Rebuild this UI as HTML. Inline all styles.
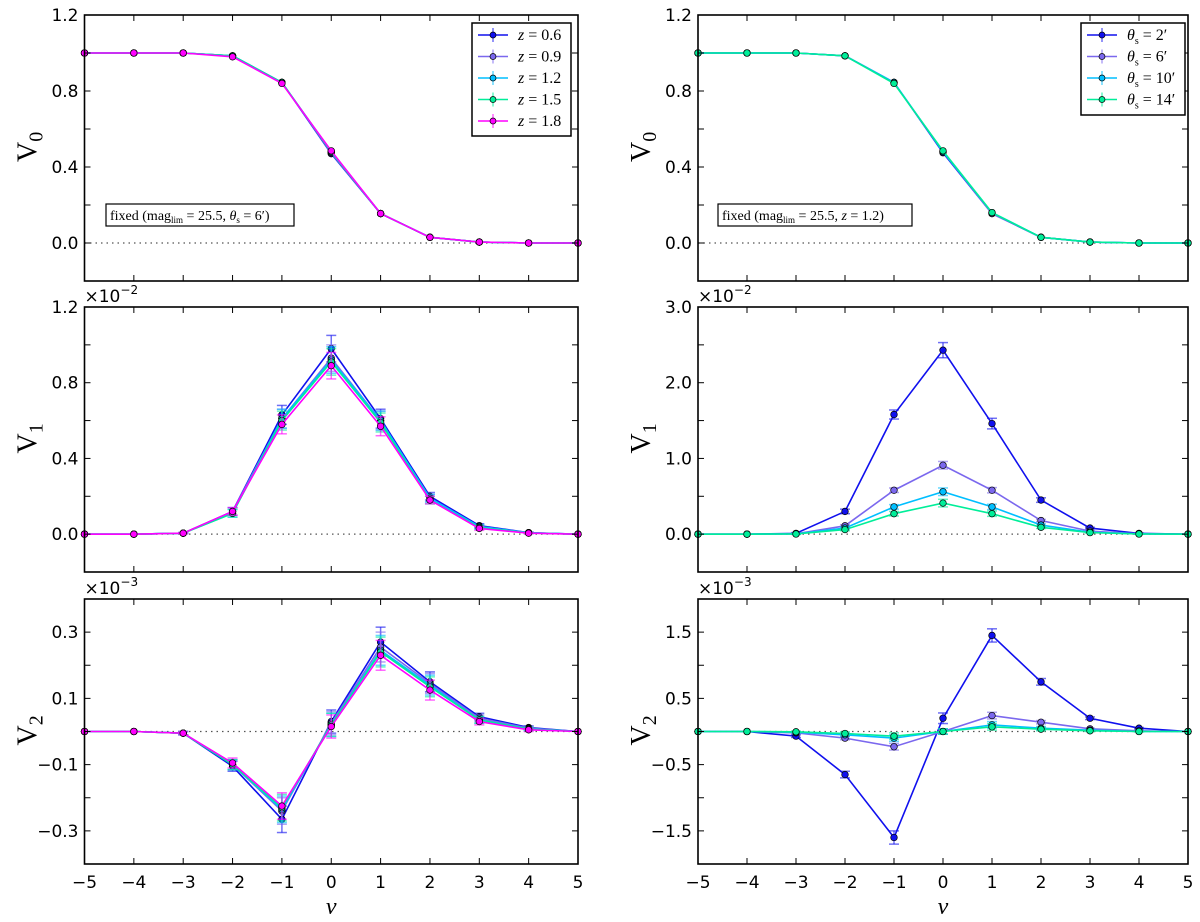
<!DOCTYPE html>
<html><head><meta charset="utf-8"><style>
body{margin:0;background:#fff}
svg{display:block;font-family:"DejaVu Sans","Liberation Sans",sans-serif}
.tk{font-size:17px}
.ser{font-family:"Liberation Serif",serif}
</style></head><body>
<svg id="fig" width="1200" height="922" viewBox="0 0 1200 922" xmlns="http://www.w3.org/2000/svg"></svg>
<script>
const nu=[-5,-4,-3,-2,-1,0,1,2,3,4,5];
const zLabels=["0.6","0.9","1.2","1.5","1.8"];
const thLabels=["2","6","10","14"];
const zColors=["#1010ee","#7b68ee","#00bfff","#00ee99","#ff00ff"];
const thColors=["#1010ee","#7b68ee","#00bfff","#00ee99"];
// left column (z series)
const V0z=[[1,1,1,0.985,0.845,0.47,0.155,0.03,0.005,0,0],[1,1,1,0.985,0.845,0.475,0.155,0.03,0.005,0,0],[1,1,1,0.985,0.845,0.48,0.155,0.03,0.005,0,0],[1,1,1,0.985,0.845,0.48,0.155,0.03,0.005,0,0],[1,1,1,0.98,0.84,0.485,0.155,0.03,0.005,0,0]];
const V1z=[[0,0,0.005,0.12,0.63,0.98,0.61,0.2,0.045,0.008,0],[0,0,0.005,0.12,0.61,0.93,0.6,0.19,0.04,0.007,0],[0,0,0.005,0.11,0.61,0.92,0.6,0.19,0.04,0.007,0],[0,0,0.005,0.11,0.6,0.91,0.59,0.18,0.035,0.006,0],[0,0,0.005,0.12,0.58,0.89,0.57,0.18,0.03,0.005,0]];
const V1zErr=[0,0,0.003,0.02,0.05,0.07,0.05,0.02,0.01,0.003,0];
const V2z=[[0,0,-0.005,-0.105,-0.265,0.03,0.27,0.15,0.045,0.012,0],[0,0,-0.005,-0.1,-0.24,0.025,0.255,0.145,0.04,0.01,0],[0,0,-0.005,-0.1,-0.235,0.02,0.245,0.14,0.035,0.008,0],[0,0,-0.005,-0.1,-0.23,0.02,0.24,0.135,0.035,0.007,0],[0,0,-0.005,-0.095,-0.225,0.015,0.23,0.125,0.03,0.005,0]];
const V2zErr=[0,0,0.005,0.015,0.04,0.035,0.045,0.03,0.01,0.005,0];
// right column (theta series)
const V0t=[[1,1,1,0.985,0.845,0.475,0.155,0.03,0.005,0,0],[1,1,1,0.985,0.845,0.48,0.155,0.03,0.005,0,0],[1,1,1,0.985,0.845,0.48,0.16,0.03,0.005,0,0],[1,1,1,0.985,0.84,0.485,0.16,0.03,0.005,0,0]];
const V1t=[[0,0,0.01,0.3,1.58,2.43,1.46,0.45,0.08,0.01,0],[0,0,0.005,0.11,0.58,0.91,0.58,0.18,0.04,0.005,0],[0,0,0.003,0.08,0.36,0.56,0.36,0.12,0.025,0.003,0],[0,0,0.002,0.06,0.27,0.41,0.27,0.09,0.02,0.002,0]];
const V1tErr=[0,0,0.01,0.03,0.06,0.1,0.07,0.03,0.01,0.005,0];
const V2t=[[0,0,-0.07,-0.65,-1.6,0.2,1.45,0.75,0.2,0.05,0],[0,0,-0.02,-0.1,-0.23,0.0,0.24,0.14,0.04,0.01,0],[0,0,-0.01,-0.05,-0.1,0,0.1,0.05,0.02,0,0],[0,0,-0.005,-0.03,-0.07,0,0.07,0.035,0.01,0,0]];
const V2tErr=[0,0,0.02,0.05,0.1,0.08,0.1,0.05,0.02,0.01,0];

const NS="http://www.w3.org/2000/svg";
const svg=document.getElementById('fig');
function el(tag,attrs,parent){const e=document.createElementNS(NS,tag);for(const k in attrs)e.setAttribute(k,attrs[k]);(parent||svg).appendChild(e);return e;}

const cols=[{x0:84.5,x1:578},{x0:698,x1:1188}];
const rows=[{y0:15,y1:281},{y0:307,y1:572},{y0:599,y1:864}];

function panel(ci,ri,ymin,ymax,minor,labels,fmt,series,colors,errs,errScale,ylab,exp,name){
  const c=cols[ci],r=rows[ri];
  const g=el('g',{});
  
  
  const X=v=>c.x0+(v+5)/10*(c.x1-c.x0);
  const Y=v=>r.y1-(v-ymin)/(ymax-ymin)*(r.y1-r.y0);
  const zl=el('line',{x1:c.x0,x2:c.x1,y1:Y(0),y2:Y(0),stroke:'#555','stroke-dasharray':'1.5,4','stroke-width':1.2},g);
  
  series.forEach((s,si)=>{
    const sg=el('g',{},g);
    
    
    const col=colors[si];
    if(errs){s.forEach((v,i)=>{const e=errs[i]*errScale[si];if(e<=0)return;
      const x=X(nu[i]);el('line',{x1:x,x2:x,y1:Y(v-e),y2:Y(v+e),stroke:col,'stroke-opacity':0.6,'stroke-width':1.5},sg);
      [v-e,v+e].forEach(w=>el('line',{x1:x-5,x2:x+5,y1:Y(w),y2:Y(w),stroke:col,'stroke-opacity':0.6,'stroke-width':1.5},sg));});}
    el('polyline',{points:s.map((v,i)=>X(nu[i])+','+Y(v)).join(' '),fill:'none',stroke:col,'stroke-width':1.6},sg);
    s.forEach((v,i)=>{const m=el('circle',{cx:X(nu[i]),cy:Y(v),r:3.3,fill:col,stroke:'#000','stroke-width':0.7},sg);
      });
  });
  el('rect',{x:c.x0,y:r.y0,width:c.x1-c.x0,height:r.y1-r.y0,fill:'none',stroke:'#000','stroke-width':1.6},g);
  nu.forEach(v=>{const x=X(v);el('line',{x1:x,x2:x,y1:r.y1,y2:r.y1-6,stroke:'#000'},g);el('line',{x1:x,x2:x,y1:r.y0,y2:r.y0+6,stroke:'#000'},g);
    if(ri===2){const t=el('text',{x:x,y:r.y1+24,'text-anchor':'middle',class:'tk'},g);t.textContent=(v<0?'\u2212':'')+Math.abs(v);
      }});
  for(let v=ymin;v<=ymax+1e-9;v+=minor){const y=Y(v);
    el('line',{x1:c.x0,x2:c.x0+6,y1:y,y2:y,stroke:'#000'},g);el('line',{x1:c.x1,x2:c.x1-6,y1:y,y2:y,stroke:'#000'},g);}
  labels.forEach(v=>{const t=el('text',{x:c.x0-6,y:Y(v)+6,'text-anchor':'end',class:'tk'},g);
    t.textContent=(v<0?'\u2212':'')+Math.abs(v).toFixed(fmt);
    });
  const yl=el('text',{x:0,y:0,class:'ser','font-size':28,transform:`translate(${c.x0-48},${(r.y0+r.y1)/2+14}) rotate(-90)`},g);
  yl.innerHTML='V<tspan font-size="20" dy="6">'+ylab+'</tspan>';
  
  if(exp){const t=el('text',{x:c.x0,y:r.y0-5,class:'tk'},g);t.innerHTML='\u00d710<tspan font-size="12" dy="-8">\u2212'+exp+'</tspan>';
    }
  if(ri===2){const t=el('text',{x:(c.x0+c.x1)/2,y:r.y1+50,'text-anchor':'middle',class:'ser','font-size':24,'font-style':'italic'},g);t.textContent='\u03bd';
    }
}
const zScale=[1,1,1,1,1];
const tScale=[1,0.5,0.5,0.5];
panel(0,0,-0.2,1.2,0.2,[0,0.4,0.8,1.2],1,V0z,zColors,null,zScale,'0',null,'v0-z-panel');
panel(0,1,-0.2,1.2,0.2,[0,0.4,0.8,1.2],1,V1z,zColors,V1zErr,zScale,'1','2','v1-z-panel');
panel(0,2,-0.4,0.4,0.1,[-0.3,-0.1,0.1,0.3],1,V2z,zColors,V2zErr,zScale,'2','3','v2-z-panel');
panel(1,0,-0.2,1.2,0.2,[0,0.4,0.8,1.2],1,V0t,thColors,null,tScale,'0',null,'v0-theta-panel');
panel(1,1,-0.5,3.0,0.5,[0,1,2,3],1,V1t,thColors,V1tErr,tScale,'1','2','v1-theta-panel');
panel(1,2,-2.0,2.0,0.5,[-1.5,-0.5,0.5,1.5],1,V2t,thColors,V2tErr,tScale,'2','3','v2-theta-panel');

function legend(x,y,w,h,labels,colors,pre,suf,name){
  const g=el('g',{});
  el('rect',{x:x,y:y,width:w,height:h,fill:'#fff',stroke:'#000','stroke-width':1.5},g);
  labels.forEach((l,i)=>{const cy=y+12+i*21.5;const col=colors[i];
    const e=el('g',{},g);
    el('line',{x1:x+6,x2:x+36,y1:cy,y2:cy,stroke:col,'stroke-width':1.6},e);
    el('line',{x1:x+21,x2:x+21,y1:cy-7,y2:cy+7,stroke:col,'stroke-opacity':0.6,'stroke-width':1.5},e);
    el('circle',{cx:x+21,cy:cy,r:3,fill:col,stroke:'#000','stroke-width':0.7},e);
    const t=el('text',{x:x+46,y:cy+5,class:'ser','font-size':16},e);t.innerHTML=pre+l+suf;});
}
legend(472,23,99,113,zLabels,zColors,'<tspan font-style="italic">z</tspan> = ','', 'legend-z');
legend(1081,23,104,92,thLabels,thColors,'<tspan font-style="italic">θ</tspan><tspan font-size="10" dy="4">s</tspan><tspan dy="-4"> = </tspan>','\u2032','legend-theta');

function note(x,y,w,txt,name){const g=el('g',{});
  el('rect',{x:x,y:y,width:w,height:22,fill:'#fff',stroke:'#000','stroke-width':1.2},g);
  const t=el('text',{x:x+4,y:y+16,class:'ser','font-size':14},g);t.innerHTML=txt;}
note(106,204,188,'fixed (mag<tspan font-size="9" dy="3">lim</tspan><tspan dy="-3"> = 25.5, </tspan><tspan font-style="italic">θ</tspan><tspan font-size="9" dy="3">s</tspan><tspan dy="-3"> = 6′)</tspan>','fixed-params-left');
note(718,204,194,'fixed (mag<tspan font-size="9" dy="3">lim</tspan><tspan dy="-3"> = 25.5, </tspan><tspan font-style="italic">z</tspan> = 1.2)','fixed-params-right');
</script>
</body></html>
